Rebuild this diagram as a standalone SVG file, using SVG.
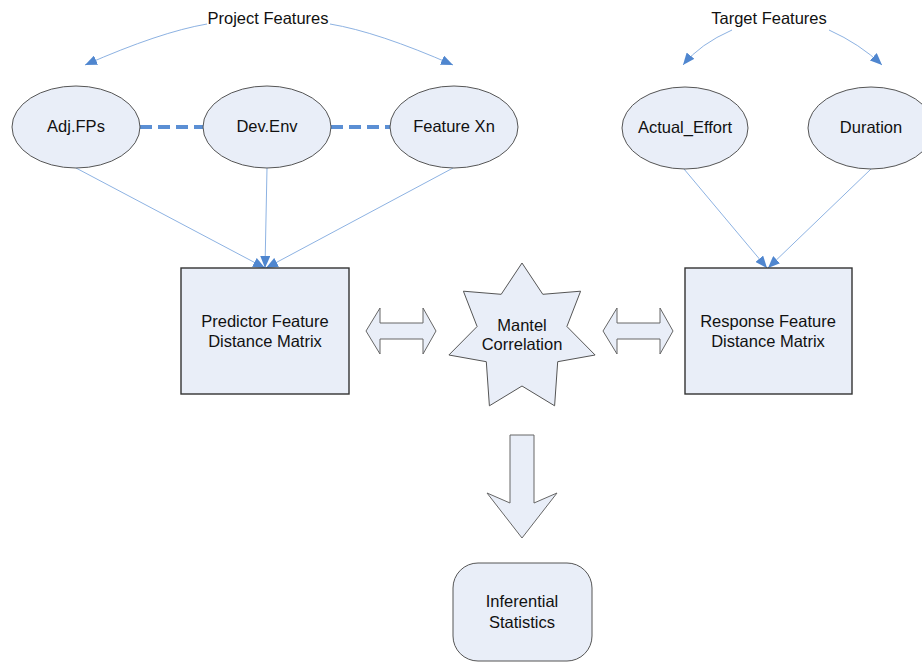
<svg xmlns="http://www.w3.org/2000/svg" width="922" height="662" viewBox="0 0 922 662">
  <defs>
    <marker id="tri" viewBox="0 0 12 10" refX="12" refY="5" markerWidth="12" markerHeight="10" markerUnits="userSpaceOnUse" orient="auto">
      <path d="M0,0 L12,5 L0,10 Z" fill="#4f86cf"/>
    </marker>
    <style>
      .shape { fill: #e9eef8; stroke: #333; stroke-width: 1.4; }
      .oval { fill: #e9eef8; stroke: #555; stroke-width: 1; }
      .block { fill: #e9eef8; stroke: #666; stroke-width: 1; }
      .lbl { font-family: "Liberation Sans", Arial, sans-serif; font-size: 16.5px; fill: #111; text-anchor: middle; }
      .link { fill: none; stroke: #8db2e2; stroke-width: 1; marker-end: url(#tri); }
      .dash { fill: none; stroke: #5b8fd4; stroke-width: 4; stroke-dasharray: 12 6; }
    </style>
  </defs>

  <rect width="922" height="662" fill="#fff"/>

  <!-- group headings -->
  <text class="lbl" x="268" y="24">Project Features</text>
  <text class="lbl" x="769" y="24">Target Features</text>

  <!-- connectors -->
  <g id="connectors">
    <path class="link" d="M207,24 Q160,32 85,65"/>
    <path class="link" d="M330,24 Q378,32 453,65"/>
    <path class="link" d="M732,30 Q700,44 683,65"/>
    <path class="link" d="M829,30 Q860,44 882,65"/>
    <line class="dash" x1="140" y1="127" x2="204" y2="127"/>
    <line class="dash" x1="331" y1="127" x2="390" y2="127"/>
    <line class="link" x1="76" y1="168" x2="265" y2="268"/>
    <line class="link" x1="267" y1="168" x2="265" y2="268"/>
    <line class="link" x1="453" y1="168" x2="266" y2="268"/>
    <line class="link" x1="684" y1="169" x2="767" y2="268"/>
    <line class="link" x1="871" y1="169" x2="768" y2="268"/>
  </g>

  <g id="adj-fps">
    <ellipse class="oval" cx="76" cy="127" rx="64" ry="41"/>
    <text class="lbl" x="76" y="132">Adj.FPs</text>
  </g>
  <g id="dev-env">
    <ellipse class="oval" cx="267" cy="127" rx="64" ry="41"/>
    <text class="lbl" x="267" y="132">Dev.Env</text>
  </g>
  <g id="feature-xn">
    <ellipse class="oval" cx="454" cy="127" rx="64" ry="41"/>
    <text class="lbl" x="454" y="132">Feature Xn</text>
  </g>
  <g id="actual-effort">
    <ellipse class="oval" cx="685" cy="128" rx="63" ry="41"/>
    <text class="lbl" x="685" y="133">Actual_Effort</text>
  </g>
  <g id="duration">
    <ellipse class="oval" cx="871" cy="128" rx="63" ry="41"/>
    <text class="lbl" x="871" y="133">Duration</text>
  </g>

  <g id="predictor-matrix">
    <rect class="shape" x="181" y="268" width="168" height="126"/>
    <text class="lbl" x="265" y="327">Predictor Feature</text>
    <text class="lbl" x="265" y="347">Distance Matrix</text>
  </g>

  <g id="response-matrix">
    <rect class="shape" x="685" y="268" width="167" height="126"/>
    <text class="lbl" x="768" y="327">Response Feature</text>
    <text class="lbl" x="768" y="347">Distance Matrix</text>
  </g>

  <!-- two-way block arrows either side of the star -->
  <g id="left-double-arrow">
    <path class="block" d="M366,331 L380,308 L380,323 L423,323 L423,308 L436,331 L423,354 L423,339 L380,339 L380,354 Z"/>
  </g>
  <g id="right-double-arrow">
    <path class="block" d="M603,331 L617,308 L617,323 L660,323 L660,308 L673,331 L660,354 L660,339 L617,339 L617,354 Z"/>
  </g>

  <g id="mantel">
    <path class="oval" d="M522,263 L542.8,294.3 L580.6,291.2 L566.9,326.5 L595.1,355 L557.7,361.7 L554.6,405.8 L522,386 L489.4,405.8 L486.3,361.7 L448.9,355 L477.1,326.5 L463.4,291.2 L501.2,294.3 Z"/>
    <text class="lbl" x="522" y="331">Mantel</text>
    <text class="lbl" x="522" y="350">Correlation</text>
  </g>

  <g id="down-arrow">
    <path class="block" d="M510,435 L534,435 L534,503 L557,493 L522,538 L487,493 L510,503 Z"/>
  </g>

  <g id="inferential-statistics">
    <rect class="oval" x="453" y="563" width="139" height="98" rx="25" ry="25"/>
    <text class="lbl" x="522" y="607">Inferential</text>
    <text class="lbl" x="522" y="628">Statistics</text>
  </g>
</svg>
